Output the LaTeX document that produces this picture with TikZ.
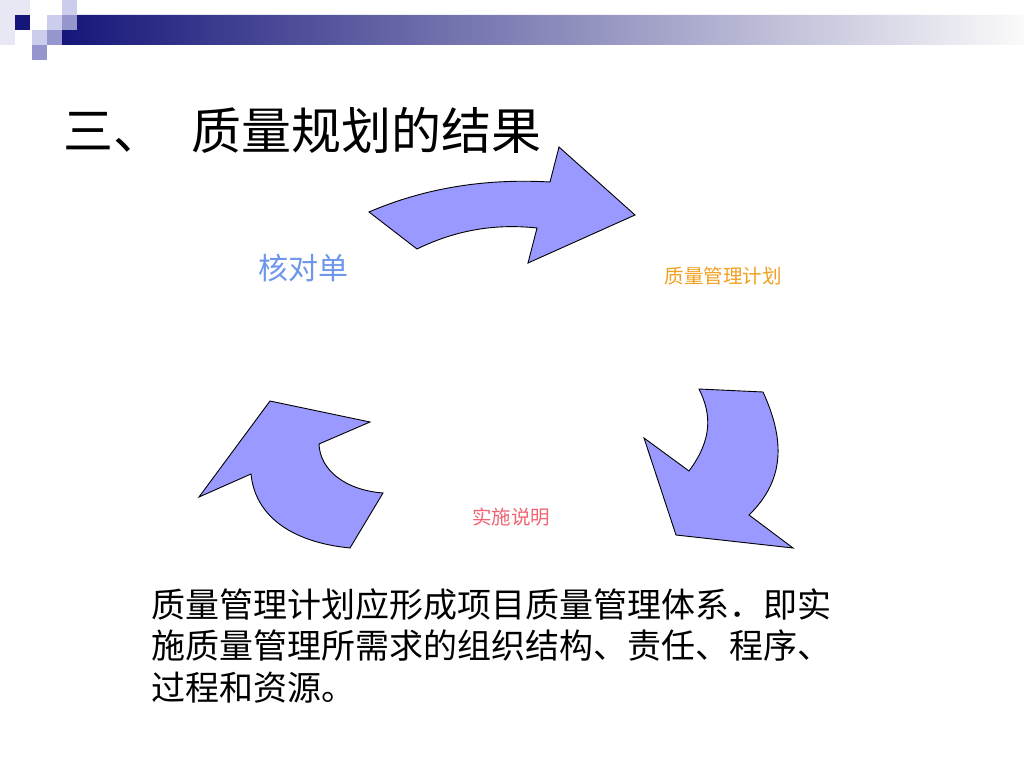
\documentclass[tikz,border=0pt]{standalone}
\usepackage{fontspec}
\newfontfamily\cjk{Noto Sans CJK SC}
\begin{document}
\begin{tikzpicture}[x=1pt,y=-1pt,
  arrowshape/.style={fill={rgb,255:red,153;green,153;blue,255},draw=black,line width=0.9pt,line join=miter},
  sq/.style={draw=none},
  title/.style={font=\cjk\fontsize{50}{60}\selectfont,inner sep=0pt,anchor=base west},
  smalllabel/.style={font=\cjk\fontsize{19.5}{24}\selectfont,inner sep=0pt},
  body/.style={font=\cjk\fontsize{34}{41.5}\selectfont,inner sep=0pt,anchor=north west,align=left}]
\useasboundingbox[fill=white] (0,0) rectangle (1024,768);
% decoration
\definecolor{navy}{RGB}{22,22,122}
\definecolor{lav1}{RGB}{204,204,236}
\definecolor{lav2}{RGB}{150,150,206}
\definecolor{lav0}{RGB}{232,232,244}
\shade[left color=navy,right color=white!96!gray,sq] (77,15) -- (1024,15) -- (1024,45) -- (62,45) -- (62,30) -- (77,30) -- cycle;
\fill[lav0] (0,0) rectangle (30,15);
\fill[lav0] (0,15) rectangle (15,45);
\fill[navy] (15,15) rectangle (30,30);
\fill[lav1] (62,0) rectangle (77,15);
\fill[lav1] (47,15) rectangle (62,30);
\fill[lav2] (62,15) rectangle (77,30);
\fill[lav1] (32,30) rectangle (47,45);
\fill[lav2] (47,30) rectangle (62,45);
\fill[lav2] (32,45) rectangle (47,60);
% title
\node[title] (t1) at (63,149) {三、};
\node[title] (t2) at (191,149) {质量规划的结果};
% arrows
\draw[arrowshape] (369,212) -- (417,249) .. controls (460,228) and (500,224) .. (537,228) -- (528,263) -- (635,215) -- (559,147) -- (550,182) .. controls (480,178) and (420,190) .. (369,212) -- cycle;
\draw[arrowshape] (699,389) -- (763,392) .. controls (785,440) and (785,480) .. (749,515) -- (793,548) -- (676,535) -- (644,438) -- (689,471) .. controls (712,440) and (712,415) .. (699,389) -- cycle;
\draw[arrowshape] (270,401) -- (370,422) -- (319,444) .. controls (320,470) and (345,490) .. (383,493) -- (350,548) .. controls (290,542) and (255,515) .. (251,474) -- (199,497) -- cycle;
% labels
\node[font=\cjk\fontsize{30}{36}\selectfont,text={rgb,255:red,110;green,150;blue,235},inner sep=0pt] (l1) at (303,268) {核对单};
\node[smalllabel,text={rgb,255:red,240;green,160;blue,30}] (l2) at (723,276) {质量管理计划};
\node[smalllabel,text={rgb,255:red,240;green,100;blue,115}] (l3) at (511,517) {实施说明};
% paragraph
\node[body] (p) at (151,588) {质量管理计划应形成项目质量管理体系．即实\\施质量管理所需求的组织结构、责任、程序、\\过程和资源。};
\end{tikzpicture}
\end{document}
